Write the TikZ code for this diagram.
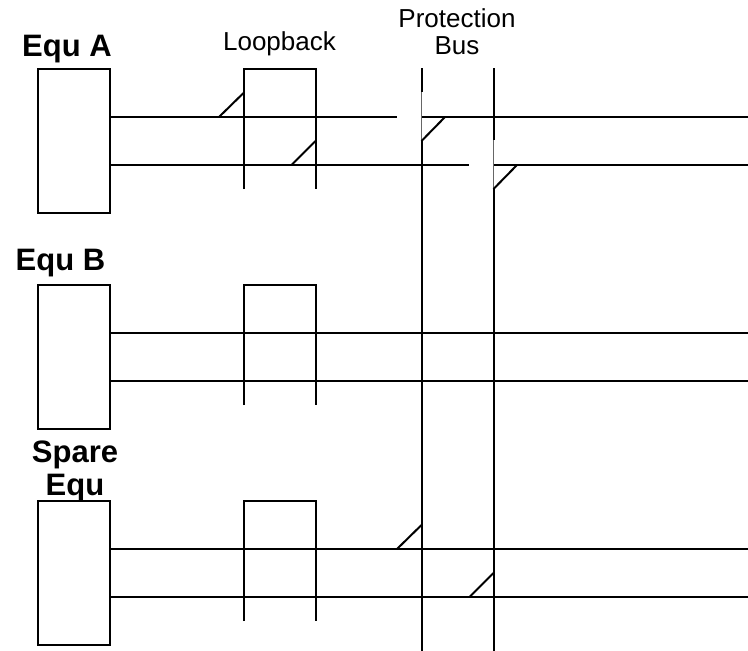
\documentclass[tikz,border=0pt]{standalone}
\usepackage{fontspec}
\setmainfont{Liberation Sans}
\tikzset{
  x=1pt,y=-1pt,
  wire/.style={draw=black,line width=2pt},
  thinwire/.style={draw=black!60,line width=1pt},
  equbox/.style={draw=black,line width=2pt,fill=white,minimum width=72.5pt,minimum height=144pt,inner sep=0pt,outer sep=0pt},
  biglabel/.style={font=\bfseries\fontsize{31}{33}\selectfont,align=center,inner sep=0pt},
  smalllabel/.style={font=\fontsize{26}{27}\selectfont,align=center,inner sep=0pt}
}
\begin{document}
\begin{tikzpicture}
\useasboundingbox (0,0) rectangle (748,651);
% equipment boxes
\node[equbox] (boxA) at (73.8,141) {};
\node[equbox] (boxB) at (73.8,357) {};
\node[equbox] (boxS) at (73.8,573) {};
% labels
\node[biglabel] (lA) at (67,49) {Equ A};
\node[biglabel] (lB) at (60.5,263) {Equ B};
\node[biglabel] (lS) at (75,471) {Spare\\Equ};
\node[smalllabel] (lL) at (279.5,43.5) {Loopback};
\node[smalllabel] (lP) at (457,32) {Protection\\Bus};
% free ends
\foreach \n/\y in {a/117,b/165,c/333,d/381,e/549,f/597}{
  \coordinate (r\n) at (748,\y);
  \coordinate (s\n) at (110,\y);
}
% loopbacks
\foreach \n/\t in {A/69,B/285,S/501}{
  \coordinate (lt\n) at (243.5,\t);
  \coordinate (rt\n) at (315.5,\t);
  \coordinate (lb\n) at (243.5,\t+120);
  \coordinate (rb\n) at (315.5,\t+120);
  \draw[wire,line join=miter] (lb\n) -- (lt\n) -- (rt\n) -- (rb\n);
}
% horizontal lines
\coordinate (g1) at (397,117); \coordinate (g2) at (421.5,117);
\coordinate (g3) at (469,165); \coordinate (g4) at (493.5,165);
\draw[wire] (sa) -- (g1);
\draw[wire] (g2) -- (ra);
\draw[wire] (sb) -- (g3);
\draw[wire] (g4) -- (rb);
\foreach \n in {c,d,e,f}{ \draw[wire] (s\n) -- (r\n); }
% protection bus
\coordinate (p1t) at (421.5,68); \coordinate (p1a) at (421.5,92);
\coordinate (p1b) at (421.5,141); \coordinate (p1e) at (421.5,651);
\coordinate (p2t) at (493.5,68); \coordinate (p2a) at (493.5,140);
\coordinate (p2b) at (493.5,189); \coordinate (p2e) at (493.5,651);
\draw[wire] (p1t) -- (p1a);
\draw[thinwire] (p1a) -- (p1b);
\draw[wire] (p1b) -- (p1e);
\draw[wire] (p2t) -- (p2a);
\draw[thinwire] (p2a) -- (p2b);
\draw[wire] (p2b) -- (p2e);
% switch arms
\coordinate (d1) at (219,117); \coordinate (d2) at (243.5,93);
\coordinate (d3) at (291.5,165); \coordinate (d4) at (315.5,141);
\coordinate (d5) at (445,117);
\coordinate (d6) at (517,165);
\coordinate (d7) at (397,549); \coordinate (d8) at (421.5,525);
\coordinate (d9) at (469.5,597); \coordinate (d10) at (493.5,573);
\draw[wire] (d1) -- (d2);
\draw[wire] (d3) -- (d4);
\draw[wire] (p1b) -- (d5);
\draw[wire] (p2b) -- (d6);
\draw[wire] (d7) -- (d8);
\draw[wire] (d9) -- (d10);
\end{tikzpicture}
\end{document}
